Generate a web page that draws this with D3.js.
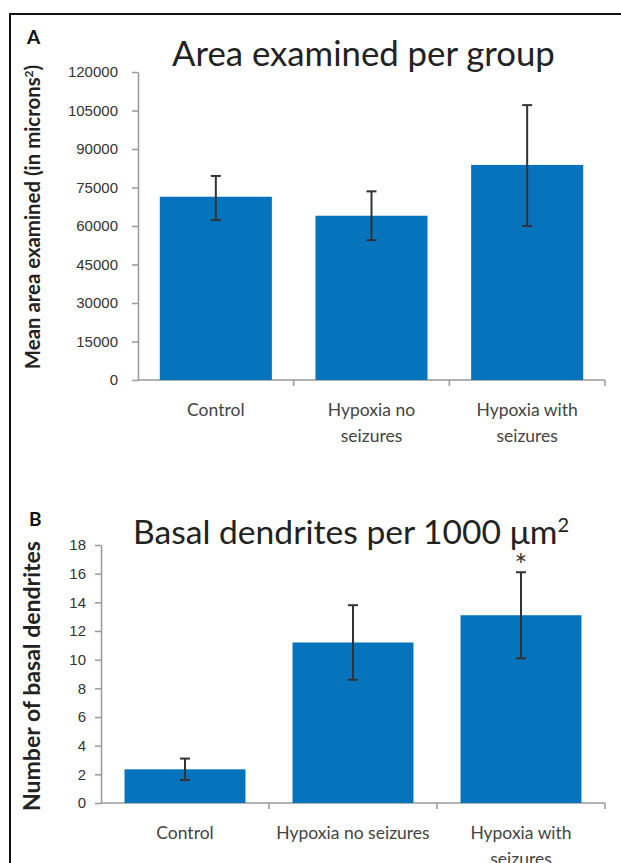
<!DOCTYPE html>
<html lang="en">
<head>
  <meta charset="UTF-8">
  <title>Area examined and basal dendrites per group</title>
  <script src="https://d3js.org/d3.v7.min.js"></script>
  <style>
    body { margin: 0; background: #fff; }
    svg { display: block; font-family: Lato, "Open Sans", sans-serif; }
    .bar { fill: #0673bd; }
    .err { stroke: #333; stroke-width: 2; }
    .axis path, .axis line { stroke: #999; stroke-width: 1.5; }
    .axis text { fill: #333; font-size: 15px; }
    .cat { fill: #444; font-size: 17.5px; }
    .title { fill: #222; font-size: 32px; }
    .ytitle { fill: #222; font-size: 19px; font-weight: bold; }
    .panel { fill: #111; font-size: 19px; font-weight: bold; }
  </style>
</head>
<body>
  <div id="chart"></div>
  <script>
    // categories shared by both panels
    const categories = ["Control", "Hypoxia no seizures", "Hypoxia with seizures"];

    // panel A: area examined
    const areaMeans = [71400, 64000, 83800];
    const areaLow = [62300, 54500, 60000];
    const areaHigh = [79500, 73500, 107100];
    const areaTicks = [0, 15000, 30000, 45000, 60000, 75000, 90000, 105000, 120000];
    const areaLabels = [["Control"], ["Hypoxia no", "seizures"], ["Hypoxia with", "seizures"]];

    // panel B: basal dendrites
    const dendMeans = [2.35, 11.2, 13.1];
    const dendLow = [1.6, 8.6, 10.1];
    const dendHigh = [3.1, 13.8, 16.1];
    const dendTicks = [0, 2, 4, 6, 8, 10, 12, 14, 16, 18];
    const dendLabels = [["Control"], ["Hypoxia no seizures"], ["Hypoxia with", "seizures"]];
    const dendMarks = ["", "", "*"];

    const W = 621, H = 863;

    const svg = d3.select("#chart")
      .append("svg")
      .attr("width", W)
      .attr("height", H);

    // frame
    svg.append("path")
      .attr("d", `M10,${H} V14 H${W}`)
      .attr("fill", "none")
      .attr("stroke", "#111")
      .attr("stroke-width", 2);

    function fit(sel, target) {
      const len = sel.node().getComputedTextLength();
      const fs = parseFloat(getComputedStyle(sel.node()).fontSize);
      sel.style("font-size", (fs * target / len) + "px");
    }

    function panel(o) {
      const g = svg.append("g");

      const x = d3.scaleBand()
        .domain(categories)
        .range([o.left, 605])
        .paddingInner(0.28)
        .paddingOuter(0.14);

      const y = d3.scaleLinear()
        .domain([0, d3.max(o.ticks)])
        .range([o.bottom, o.top]);

      // y axis
      g.append("g")
        .attr("class", "axis")
        .attr("transform", `translate(${o.left},0)`)
        .call(d3.axisLeft(y).tickValues(o.ticks).tickSize(6).tickSizeOuter(0).tickPadding(o.pad).tickFormat(d3.format("d")));

      // x axis with ticks between categories
      const bounds = categories.map(c => x(c) - x.step() * 0.14).concat([x.range()[1]]);
      const xa = g.append("g").attr("class", "axis");
      xa.append("line")
        .attr("x1", o.left).attr("x2", x.range()[1])
        .attr("y1", y(0)).attr("y2", y(0));
      xa.selectAll(".tk")
        .data(bounds.slice(1))
        .enter()
        .append("line")
        .attr("x1", d => d).attr("x2", d => d)
        .attr("y1", y(0)).attr("y2", y(0) + 6);

      // bars
      g.selectAll(".bar")
        .data(o.means)
        .enter()
        .append("rect")
        .attr("class", "bar")
        .attr("x", (d, i) => x(categories[i]))
        .attr("y", d => y(d))
        .attr("width", x.bandwidth())
        .attr("height", d => y(0) - y(d));

      // error bars
      const cx = i => x(categories[i]) + x.bandwidth() / 2;
      o.means.forEach((m, i) => {
        g.append("line").attr("class", "err")
          .attr("x1", cx(i)).attr("x2", cx(i))
          .attr("y1", y(o.low[i])).attr("y2", y(o.high[i]));
        [o.low[i], o.high[i]].forEach(v => {
          g.append("line").attr("class", "err")
            .attr("x1", cx(i) - 5).attr("x2", cx(i) + 5)
            .attr("y1", y(v)).attr("y2", y(v));
        });
        if (o.marks && o.marks[i]) {
          g.append("text")
            .attr("x", cx(i))
            .attr("y", y(o.high[i]) + 4)
            .attr("text-anchor", "middle")
            .attr("fill", "#333")
            .style("font-size", "30px")
            .text(o.marks[i]);
        }
      });

      // category labels
      o.labels.forEach((lines, i) => {
        const t = g.append("text")
          .attr("class", "cat")
          .attr("text-anchor", "middle")
          .attr("x", cx(i))
          .attr("y", y(0) + o.catDy);
        lines.forEach((l, j) => {
          t.append("tspan").attr("x", cx(i)).attr("dy", j ? 26 : 0).text(l);
        });
      });

      // title
      const title = g.append("text")
        .attr("class", "title")
        .attr("x", o.titleX)
        .attr("y", o.titleY)
        .text(o.title);
      if (o.sup) title.append("tspan").attr("dy", -12).style("font-size", "20px").text(o.sup);
      fit(title, o.titleW);

      // y title
      const yt = g.append("text")
        .attr("class", "ytitle")
        .attr("text-anchor", "middle")
        .attr("transform", `translate(${o.ytX},${o.ytY}) rotate(-90)`)
        .text(o.ytitle);
      if (o.ysup) yt.append("tspan").attr("dy", -7).style("font-size", "12px").text(o.ysup);
      if (o.ysup) yt.append("tspan").attr("dy", 7).text(")");
      fit(yt, o.ytW);

      g.append("text")
        .attr("class", "panel")
        .attr("x", o.panelX)
        .attr("y", o.panelY)
        .text(o.panel);
    }

    panel({
      left: 138, top: 72, bottom: 380, pad: 14,
      ticks: areaTicks, means: areaMeans, low: areaLow, high: areaHigh,
      labels: areaLabels, catDy: 36,
      title: "Area examined per group", titleX: 172, titleY: 66, titleW: 383,
      ytitle: "Mean area examined (in microns", ysup: "2", ytX: 40, ytY: 217, ytW: 305,
      panel: "A", panelX: 27, panelY: 44
    });

    panel({
      left: 101, top: 545, bottom: 803, pad: 9,
      ticks: dendTicks, means: dendMeans, low: dendLow, high: dendHigh,
      labels: dendLabels, catDy: 36, marks: dendMarks,
      title: "Basal dendrites per 1000 μm", sup: "2", titleX: 133, titleY: 544, titleW: 437,
      ytitle: "Number of basal dendrites", ytX: 40, ytY: 676, ytW: 270,
      panel: "B", panelX: 29, panelY: 526
    });
  </script>
</body>
</html>
